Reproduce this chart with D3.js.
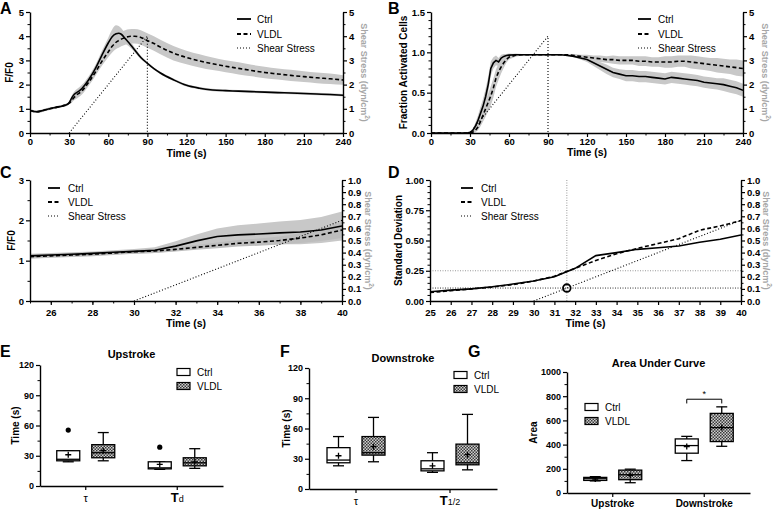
<!DOCTYPE html>
<html><head><meta charset="utf-8">
<script src="https://cdn.jsdelivr.net/npm/d3@7"></script>
<style>
body{margin:0;background:#fff;}
svg{font-family:"Liberation Sans",Arial,sans-serif;}
</style></head><body>
<svg id="c" width="778" height="509"></svg>
<script>
// ---------- DATA ----------
// Panel A: F/F0 vs time (s)
const tA = [0,5,10,15,20,25,28,30,32,34,36,38,40,45,50,55,60,63,66,68,70,73,76,80,85,90,95,100,110,120,130,140,150,160,170,180,190,200,210,220,230,240];
const ctrlA = [0.93,0.88,0.93,1.0,1.06,1.12,1.17,1.25,1.45,1.6,1.68,1.75,1.85,2.2,2.65,3.2,3.72,3.98,4.1,4.12,4.08,3.9,3.72,3.45,3.12,2.88,2.66,2.48,2.2,1.97,1.85,1.78,1.75,1.73,1.71,1.69,1.67,1.65,1.63,1.61,1.59,1.56];
const ctrlSemA = [0.05,0.05,0.05,0.05,0.05,0.05,0.05,0.05,0.1,0.12,0.14,0.15,0.15,0.15,0.15,0.18,0.22,0.3,0.35,0.3,0.25,0.2,0.15,0.1,0.07,0.05,0.05,0.05,0.05,0.05,0.05,0.05,0.05,0.05,0.05,0.05,0.05,0.05,0.05,0.05,0.05,0.05];
const vldlA = [0.93,0.88,0.93,1.0,1.06,1.12,1.17,1.23,1.35,1.48,1.58,1.66,1.75,2.1,2.5,2.95,3.35,3.58,3.75,3.82,3.88,3.95,3.99,4.0,3.95,3.82,3.7,3.55,3.3,3.12,2.98,2.86,2.76,2.67,2.58,2.5,2.44,2.38,2.33,2.28,2.24,2.19];
const vldlSemA = [0.05,0.05,0.05,0.05,0.05,0.05,0.05,0.05,0.1,0.12,0.15,0.15,0.15,0.15,0.15,0.18,0.22,0.25,0.28,0.3,0.3,0.3,0.3,0.3,0.3,0.3,0.3,0.3,0.3,0.28,0.27,0.26,0.25,0.25,0.24,0.24,0.23,0.23,0.22,0.22,0.22,0.2];

// Panel B: fraction of activated cells
const tB = [0,25,28,30,32,34,36,38,40,42,44,46,48,50,52,54,56,58,60,65,70,80,90,100,105,110,115,120,125,130,135,140,145,150,155,160,165,170,175,180,185,190,195,200,205,210,215,220,225,230,235,240];
const ctrlB = [0,0,0,0.01,0.03,0.08,0.15,0.24,0.33,0.45,0.6,0.8,0.87,0.9,0.88,0.93,0.95,0.96,0.965,0.97,0.97,0.97,0.97,0.97,0.96,0.95,0.93,0.91,0.87,0.83,0.79,0.75,0.73,0.71,0.71,0.7,0.7,0.69,0.68,0.67,0.69,0.68,0.67,0.66,0.65,0.63,0.62,0.61,0.6,0.58,0.56,0.53];
const ctrlSemB = [0,0,0,0.005,0.02,0.04,0.06,0.08,0.09,0.1,0.1,0.09,0.07,0.06,0.05,0.04,0.03,0.02,0.02,0.01,0.01,0.01,0.01,0.01,0.01,0.01,0.02,0.03,0.04,0.05,0.06,0.06,0.06,0.07,0.07,0.07,0.07,0.07,0.07,0.07,0.07,0.07,0.07,0.07,0.07,0.07,0.07,0.07,0.08,0.08,0.08,0.08];
const vldlB = [0,0,0,0,0.01,0.03,0.07,0.14,0.22,0.3,0.38,0.46,0.56,0.68,0.76,0.82,0.87,0.91,0.94,0.965,0.97,0.97,0.97,0.97,0.97,0.96,0.95,0.94,0.93,0.92,0.91,0.91,0.9,0.9,0.9,0.89,0.89,0.88,0.88,0.88,0.88,0.89,0.89,0.88,0.87,0.86,0.85,0.84,0.83,0.82,0.81,0.8];
const vldlSemB = [0,0,0,0,0.01,0.02,0.04,0.06,0.08,0.1,0.11,0.12,0.12,0.11,0.1,0.08,0.06,0.04,0.03,0.02,0.01,0.01,0.01,0.01,0.01,0.02,0.02,0.03,0.03,0.04,0.04,0.05,0.05,0.05,0.05,0.06,0.06,0.06,0.06,0.07,0.07,0.07,0.07,0.08,0.08,0.08,0.08,0.09,0.09,0.09,0.1,0.1];

// Shear stress protocol (dyn/cm2)
const shearT = [30, 90, 90];
const shearV = [0, 4, 0];

// Panel C: F/F0, 25-40 s
const tC = [25,26,27,28,29,30,31,32,33,34,35,36,37,38,39,40];
const ctrlC = [1.12,1.14,1.16,1.18,1.21,1.23,1.26,1.36,1.49,1.6,1.64,1.66,1.69,1.71,1.76,1.86];
const ctrlSemC = [0.05,0.05,0.05,0.05,0.05,0.06,0.07,0.12,0.16,0.2,0.24,0.26,0.28,0.3,0.32,0.36];
const vldlC = [1.1,1.12,1.14,1.16,1.19,1.22,1.24,1.28,1.33,1.38,1.43,1.46,1.5,1.56,1.64,1.76];
const vldlSemC = [0.05,0.05,0.05,0.05,0.05,0.05,0.05,0.05,0.06,0.07,0.08,0.09,0.1,0.12,0.15,0.2];

// Panel D: standard deviation, 25-40 s
const tD = [25,26,27,28,29,30,31,32,33,34,35,36,37,38,39,40];
const ctrlD = [0.077,0.09,0.1,0.118,0.14,0.165,0.2,0.27,0.375,0.4,0.427,0.44,0.455,0.485,0.51,0.545];
const vldlD = [0.07,0.085,0.1,0.115,0.135,0.165,0.205,0.27,0.335,0.39,0.435,0.475,0.515,0.585,0.62,0.665];
const sdThreshold = 0.25, crossTime = 31.6, crossShear = 0.107;

// Box plots: [min, q1, median, q3, max, mean]
const upCats = ["tau", "Td"];
const upCtrl = [[24,25,26.5,35,35,31],[16.5,17,18,24,24,21.5]];
const upCtrlOut = [[55.5],[38.5]];
const upVldl = [[25,28,33,41,53,35],[17.5,20,23,28,37,24]];
const downCats = ["tau", "T12"];
const downCtrl = [[23,26,28.7,41,52,33],[16.5,18,20,28,36,23]];
const downVldl = [[27,33.6,36,52,71,42],[19,24,26,44.5,74,34]];
const aucCats = ["Upstroke", "Downstroke"];
const aucCtrl = [[100,104,118,129,135,115],[268,329,392,447,468,384]];
const aucVldl = [[85,110,151,189,197,145],[386,425,540,658,712,542]];
const timeTicks = [0,30,60,90,120];
const areaTicks = [0,200,400,600,800,1000];

// ---------- DRAWING ----------
const svg = d3.select("#c");
const defs = svg.append("defs");
const pat = defs.append("pattern").attr("id","chk").attr("width",3).attr("height",3).attr("patternUnits","userSpaceOnUse");
pat.append("rect").attr("width",3).attr("height",3).attr("fill","#cfcfcf");
pat.append("rect").attr("width",1.5).attr("height",1.5).attr("fill","#3a3a3a");
pat.append("rect").attr("x",1.5).attr("y",1.5).attr("width",1.5).attr("height",1.5).attr("fill","#3a3a3a");

const BAND = "#c8c8c8";
let clipId = 0;

function styleAxis(sel, fs) {
  sel.select(".domain").attr("stroke","#000").attr("stroke-width",1.4);
  sel.selectAll(".tick line").attr("stroke","#000").attr("stroke-width",1.2);
  sel.selectAll(".tick text").attr("font-size",fs||9.5).attr("font-weight","bold").attr("fill","#000").attr("font-family",null);
}
function minor(g, axisFn, scale, vals, size, transform) {
  const a = g.append("g").attr("transform",transform).call(axisFn(scale).tickValues(vals).tickSize(size).tickFormat(""));
  a.select(".domain").remove();
  a.selectAll(".tick line").attr("stroke","#000").attr("stroke-width",1);
}
function range(a,b,s){const r=[];for(let v=a;v<=b+1e-9;v+=s)r.push(+v.toFixed(4));return r;}

function panelLetter(txt,x,y){svg.append("text").attr("x",x).attr("y",y).attr("font-size",16).attr("font-weight","bold").text(txt);}

function rightTitle(g,x,cy){
  const t=g.append("text").attr("transform",`translate(${x},${cy}) rotate(90)`).attr("text-anchor","middle")
   .attr("font-size",9).attr("font-weight","bold").attr("fill","#a6a6a6");
  t.append("tspan").text("Shear Stress (dyn/cm");
  t.append("tspan").attr("font-size",6.5).attr("dy",-3.5).text("2");
  t.append("tspan").attr("dy",3.5).text(")");
}
function leftTitle(g,x,cy,txt){
  g.append("text").attr("transform",`translate(${x},${cy}) rotate(-90)`).attr("text-anchor","middle")
   .attr("font-size",10).attr("font-weight","bold").text(txt);
}
function lineLegend(g,x1,x2,tx,ys){
  const items=[["Ctrl",null,1.8],["VLDL","4,2.5",1.8],["Shear Stress","1,2",1.1]];
  items.forEach((it,i)=>{
    g.append("line").attr("x1",x1).attr("x2",x2).attr("y1",ys[i]).attr("y2",ys[i]).attr("stroke","#000")
      .attr("stroke-width",it[2]).attr("stroke-dasharray",it[1]);
    g.append("text").attr("x",tx).attr("y",ys[i]+3.5).attr("font-size",10).text(it[0]);
  });
}

function linePanel(c){
  const g = svg.append("g");
  const x = d3.scaleLinear().domain(c.xd).range([c.l,c.r]);
  const y = d3.scaleLinear().domain(c.yd).range([c.b,c.t]);
  const y2 = d3.scaleLinear().domain(c.y2d).range([c.b,c.t]);
  const id = "clip"+(clipId++);
  defs.append("clipPath").attr("id",id).append("rect").attr("x",c.l).attr("y",c.t-2).attr("width",c.r-c.l).attr("height",c.b-c.t+2);
  const pg = g.append("g").attr("clip-path",`url(#${id})`);
  if (c.pre) c.pre(pg,x,y,y2);
  c.series.forEach(s=>{
    if(!s.sem) return;
    const d = s.t.map((t,i)=>({t, v:s.v[i], s:s.sem[i]}));
    pg.append("path").datum(d).attr("fill",s.band||BAND).attr("stroke","none")
      .attr("d",d3.area().curve(c.curve).x(p=>x(p.t)).y0(p=>y(p.v-p.s)).y1(p=>y(p.v+p.s)));
  });
  c.series.forEach(s=>{
    const d = s.t.map((t,i)=>({t, v:s.v[i]}));
    pg.append("path").datum(d).attr("fill","none").attr("stroke","#000").attr("stroke-width",1.6)
      .attr("stroke-dasharray",s.dash).attr("d",d3.line().curve(c.curve).x(p=>x(p.t)).y(p=>y(p.v)));
  });
  const sd = shearT.map((t,i)=>({t, v:shearV[i]}));
  pg.append("path").datum(sd).attr("fill","none").attr("stroke","#000").attr("stroke-width",1.1)
    .attr("stroke-dasharray","1,2").attr("d",d3.line().x(p=>x(p.t)).y(p=>y2(p.v)));
  if (c.post) c.post(g,x,y,y2);
  // axes
  minor(g,d3.axisBottom,x,c.xMinor,2.5,`translate(0,${c.b})`);
  const ax = g.append("g").attr("transform",`translate(0,${c.b})`)
    .call(d3.axisBottom(x).tickValues(c.xMajor).tickSize(4).tickSizeOuter(0).tickPadding(c.xPad).tickFormat(d3.format("d")));
  styleAxis(ax);
  minor(g,d3.axisLeft,y,c.yMinor,2.5,`translate(${c.l},0)`);
  const ay = g.append("g").attr("transform",`translate(${c.l},0)`)
    .call(d3.axisLeft(y).tickValues(c.yMajor).tickSize(4).tickSizeOuter(0).tickPadding(2).tickFormat(c.yFmt));
  styleAxis(ay);
  minor(g,d3.axisRight,y2,c.y2Minor,2.5,`translate(${c.r},0)`);
  const ay2 = g.append("g").attr("transform",`translate(${c.r},0)`)
    .call(d3.axisRight(y2).tickValues(c.y2Major).tickSize(4).tickSizeOuter(0).tickPadding(2).tickFormat(c.y2Fmt));
  styleAxis(ay2);
  g.append("text").attr("x",(c.l+c.r)/2).attr("y",c.xTitleY).attr("text-anchor","middle").attr("font-size",10.5).attr("font-weight","bold").text("Time (s)");
  leftTitle(g,c.ylx,(c.t+c.b)/2,c.ylab);
  rightTitle(g,c.y2lx,(c.t+c.b)/2);
  lineLegend(g,c.leg[0],c.leg[1],c.leg[2],c.leg[3]);
}

// Panel A
panelLetter("A",0,14);
linePanel({l:30,r:343,t:12,b:133,xd:[0,240],yd:[0,5],y2d:[0,5],curve:d3.curveMonotoneX,
  xMajor:range(0,240,30),xMinor:range(15,225,30),yMajor:range(0,5,1),yMinor:range(0.5,4.5,1),
  y2Major:range(0,5,1),y2Minor:range(0.5,4.5,1),yFmt:d3.format("d"),y2Fmt:d3.format("d"),xPad:1.5,
  series:[{t:tA,v:vldlA,sem:vldlSemA,dash:"4,2.5"},{t:tA,v:ctrlA,sem:ctrlSemA,dash:null}],
  xTitleY:157,ylx:13,ylab:"F/F0",y2lx:361,leg:[237,251,257,[19,34,48]]});

// Panel B
panelLetter("B",388,14);
linePanel({l:431,r:743,t:12,b:133,xd:[0,240],yd:[0,1.5],y2d:[0,5],curve:d3.curveLinear,
  xMajor:range(0,240,30),xMinor:range(15,225,30),yMajor:[0,0.5,1.0,1.5],yMinor:range(0.1,1.4,0.1).filter(v=>Math.abs(v*2-Math.round(v*2))>0.01),
  y2Major:range(0,5,1),y2Minor:range(0.5,4.5,1),yFmt:d3.format(".1f"),y2Fmt:d3.format("d"),xPad:1.5,
  series:[{t:tB,v:vldlB,sem:vldlSemB,dash:"4,2.5"},{t:tB,v:ctrlB,sem:ctrlSemB,dash:null}],
  xTitleY:156,ylx:407,ylab:"Fraction Activated Cells",y2lx:762,leg:[638,651,658,[19,34,48]]});

// Panel C
panelLetter("C",0,178);
linePanel({l:30,r:342,t:180,b:301,xd:[25,40],yd:[0,3],y2d:[0,1],curve:d3.curveLinear,
  xMajor:range(26,40,2),xMinor:range(25,39,1),yMajor:[0,1,2,3],yMinor:[0.5,1.5,2.5],
  y2Major:range(0,1,0.1),y2Minor:range(0.05,0.95,0.1),yFmt:d3.format("d"),y2Fmt:d3.format(".1f"),xPad:4,
  series:[{t:tC,v:ctrlC,sem:ctrlSemC,dash:null},{t:tC,v:vldlC,sem:vldlSemC,band:"#bdbdbd",dash:"4,2.5"}],
  xTitleY:327,ylx:15,ylab:"F/F0",y2lx:365,leg:[48,60,68,[188,202,216]]});

// Panel D
panelLetter("D",388,178);
linePanel({l:430,r:741,t:180,b:301,xd:[25,40],yd:[0,1],y2d:[0,1],curve:d3.curveLinear,
  xMajor:range(25,40,1),xMinor:[],yMajor:[0,0.25,0.5,0.75,1.0],yMinor:range(0.05,0.95,0.05).filter(v=>Math.abs(v*4-Math.round(v*4))>0.01),
  y2Major:range(0,1,0.1),y2Minor:range(0.05,0.95,0.1),yFmt:d3.format(".2f"),y2Fmt:d3.format(".1f"),xPad:4,
  series:[{t:tD,v:ctrlD,dash:null},{t:tD,v:vldlD,dash:"4,2.5"}],
  pre:(pg,x,y,y2)=>{
    pg.append("line").attr("x1",x(25)).attr("x2",x(40)).attr("y1",y(sdThreshold)).attr("y2",y(sdThreshold)).attr("stroke","#999").attr("stroke-width",1).attr("stroke-dasharray","1,1.5");
    pg.append("line").attr("x1",x(25)).attr("x2",x(40)).attr("y1",y2(crossShear)).attr("y2",y2(crossShear)).attr("stroke","#333").attr("stroke-width",1).attr("stroke-dasharray","1,1.5");
    pg.append("line").attr("x1",x(crossTime)).attr("x2",x(crossTime)).attr("y1",y(0)).attr("y2",y(1)).attr("stroke","#999").attr("stroke-width",1).attr("stroke-dasharray","1,1.5");
  },
  post:(g,x,y,y2)=>{
    g.append("circle").attr("cx",x(crossTime)).attr("cy",y2(crossShear)).attr("r",3.8).attr("fill","none").attr("stroke","#000").attr("stroke-width",1.8);
  },
  xTitleY:327,ylx:402,ylab:"Standard Deviation",y2lx:763,leg:[461,473,481,[188,202,216]]});

// ---------- Box plots ----------
function boxPanel(c){
  const g = svg.append("g");
  const x = d3.scaleBand().domain(c.cats).range([c.l,c.r]);
  const y = d3.scaleLinear().domain([0,c.max]).range([c.b,c.t]);
  // axes
  minor(g,d3.axisLeft,y,c.minor,2.5,`translate(${c.l},0)`);
  const ay = g.append("g").attr("transform",`translate(${c.l},0)`)
    .call(d3.axisLeft(y).tickValues(c.ticks).tickSize(4).tickSizeOuter(0).tickPadding(2).tickFormat(d3.format("d")));
  styleAxis(ay,9);
  const ax = g.append("g").attr("transform",`translate(0,${c.b})`)
    .call(d3.axisBottom(x).tickSize(4).tickSizeOuter(0).tickFormat(""));
  styleAxis(ax);
  const off = 17.5, w = 23;
  const groups = [{d:c.ctrl,out:c.ctrlOut,fill:"#fff",dx:-off},{d:c.vldl,out:null,fill:"url(#chk)",dx:off}];
  groups.forEach(gr=>{
    gr.d.forEach((s,i)=>{
      const cx = x(c.cats[i]) + x.bandwidth()/2 + gr.dx;
      const [mn,q1,md,q3,mx,mean] = s;
      const st = (sel)=>sel.attr("stroke","#000").attr("stroke-width",1.3);
      st(g.append("line").attr("x1",cx).attr("x2",cx).attr("y1",y(q3)).attr("y2",y(mx)));
      st(g.append("line").attr("x1",cx).attr("x2",cx).attr("y1",y(q1)).attr("y2",y(mn)));
      st(g.append("line").attr("x1",cx-5.5).attr("x2",cx+5.5).attr("y1",y(mx)).attr("y2",y(mx)));
      st(g.append("line").attr("x1",cx-5.5).attr("x2",cx+5.5).attr("y1",y(mn)).attr("y2",y(mn)));
      st(g.append("rect").attr("x",cx-w/2).attr("width",w).attr("y",y(q3)).attr("height",y(q1)-y(q3)).attr("fill",gr.fill));
      st(g.append("line").attr("x1",cx-w/2).attr("x2",cx+w/2).attr("y1",y(md)).attr("y2",y(md)));
      g.append("path").attr("d",`M${cx-3},${y(mean)}h6M${cx},${y(mean)-3}v6`).attr("stroke","#000").attr("stroke-width",1.3);
      if (gr.out) gr.out[i].forEach(o=>g.append("circle").attr("cx",cx).attr("cy",y(o)).attr("r",2.6).attr("fill","#000"));
    });
  });
  // category labels
  c.cats.forEach((k,i)=>{
    const cx = x(k)+x.bandwidth()/2;
    const t = g.append("text").attr("x",cx).attr("y",c.b+16).attr("text-anchor","middle");
    if (k==="tau") t.attr("font-size",11).text("τ");
    else if (k==="Td"){ t.append("tspan").attr("font-size",13).attr("font-weight","bold").text("T"); t.append("tspan").attr("font-size",9).text("d"); }
    else if (k==="T12"){ t.append("tspan").attr("font-size",13).attr("font-weight","bold").text("T"); t.append("tspan").attr("font-size",9).text("1/2"); }
    else t.attr("font-size",10).attr("font-weight","bold").attr("y",c.b+14).text(k);
  });
  g.append("text").attr("x",(c.l+c.r)/2).attr("y",c.titleY).attr("text-anchor","middle").attr("font-size",11).attr("font-weight","bold").text(c.title);
  leftTitle(g,c.ylx,(c.t+c.b)/2,c.ylab);
  // legend
  [["Ctrl","#fff"],["VLDL","url(#chk)"]].forEach((it,i)=>{
    const yy = c.leg[1] + i*14;
    g.append("rect").attr("x",c.leg[0]).attr("y",yy-3.5).attr("width",13).attr("height",7).attr("fill",it[1]).attr("stroke","#000").attr("stroke-width",1.2);
    g.append("text").attr("x",c.leg[0]+20).attr("y",yy+3.5).attr("font-size",10).text(it[0]);
  });
  if (c.post) c.post(g,x,y);
}

panelLetter("E",0,357);
boxPanel({l:40,r:223,t:365,b:486,max:120,ticks:timeTicks,minor:[15,45,75,105],cats:upCats,ctrl:upCtrl,ctrlOut:upCtrlOut,vldl:upVldl,
  title:"Upstroke",titleY:358,ylx:19,ylab:"Time (s)",leg:[177,372]});

panelLetter("F",280,357);
boxPanel({l:309,r:497,t:368,b:489,max:120,ticks:timeTicks,minor:[15,45,75,105],cats:downCats,ctrl:downCtrl,ctrlOut:[[],[]],vldl:downVldl,
  title:"Downstroke",titleY:362,ylx:290,ylab:"Time (s)",leg:[454,375]});

panelLetter("G",468,357);
boxPanel({l:567,r:750,t:372,b:493,max:1000,ticks:areaTicks,minor:[100,300,500,700,900],cats:aucCats,ctrl:aucCtrl,ctrlOut:[[],[]],vldl:aucVldl,
  title:"Area Under Curve",titleY:367,ylx:537,ylab:"Area",leg:[585,407],
  post:(g,x,y)=>{
    const c1 = x("Downstroke")+x.bandwidth()/2-17.5, c2 = x("Downstroke")+x.bandwidth()/2+17.5;
    g.append("path").attr("d",`M${c1},${y(740)}V${y(775)}H${c2}V${y(740)}`).attr("fill","none").attr("stroke","#000").attr("stroke-width",1);
    g.append("text").attr("x",(c1+c2)/2).attr("y",y(775)-2).attr("text-anchor","middle").attr("font-size",9).text("*");
  }});
</script>
</body></html>
